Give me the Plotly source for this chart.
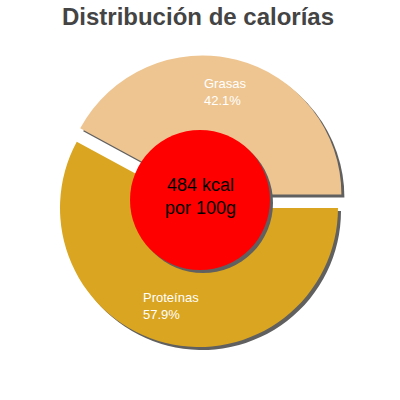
import plotly.graph_objects as go

# data
labels = ["Grasas", "Proteínas"]
shares = [42.1, 57.9]
colors = ["#EEC591", "#DAA520"]
pulls = [0.1, 0.0]
kcal = 484
center_lines = ["484 kcal", "por 100g"]

W = H = 400
SHADOW = 3  # px offset of the drop shadow


def px(x, y):
    # pixel (from top-left) -> paper coords
    return x / W, 1 - y / H


def dom(cx, cy, half, dx=0, dy=0):
    x0, y1 = px(cx + dx - half, cy + dy - half)
    x1, y0 = px(cx + dx + half, cy + dy + half)
    return dict(x=[x0, x1], y=[y0, y1])


pie_half = 139 * (1 + max(pulls))
# plotly goes clockwise from 3 o'clock, so feed the slices in reverse
common = dict(values=shares[::-1], labels=labels[::-1], pull=pulls[::-1], sort=False,
              direction="clockwise", rotation=90, textinfo="none",
              hoverinfo="skip", showlegend=False)

fig = go.Figure()
# shadows first
fig.add_trace(go.Pie(**common, domain=dom(199, 208, pie_half, SHADOW, SHADOW),
                     marker=dict(colors=["#606060"] * 2, line=dict(width=0))))
fig.add_trace(go.Pie(**common, domain=dom(199, 208, pie_half),
                     marker=dict(colors=colors[::-1], line=dict(width=0))))
# red centre disc + its shadow
disc = dict(values=[kcal], labels=["kcal"], sort=False, textinfo="none",
            hoverinfo="skip", showlegend=False)
fig.add_trace(go.Pie(**disc, domain=dom(200, 200, 70, SHADOW, SHADOW),
                     marker=dict(colors=["#606060"], line=dict(width=0))))
fig.add_trace(go.Pie(**disc, domain=dom(200, 200, 70),
                     marker=dict(colors=["#FF0000"], line=dict(width=0))))

# slice labels, name and percent on two left aligned lines
label_pos = {"Grasas": (202, 92), "Proteínas": (141, 306)}
for name, pct in zip(labels, shares):
    ax, ay = px(*label_pos[name])
    fig.add_annotation(x=ax, y=ay, xref="paper", yref="paper",
                       text=f"{name}<br>{pct}%", showarrow=False, align="left",
                       xanchor="left", yanchor="middle",
                       font=dict(family="Liberation Sans", size=13, color="white"))

ax, ay = px(200, 197)
fig.add_annotation(x=ax, y=ay, xref="paper", yref="paper", text="<br>".join(center_lines),
                   showarrow=False, xanchor="center", yanchor="middle",
                   font=dict(family="Liberation Sans", size=18, color="black"))

tx, ty = px(198, 17)
fig.update_layout(
    width=W, height=H,
    margin=dict(l=0, r=0, t=0, b=0),
    paper_bgcolor="white", plot_bgcolor="white",
    title=dict(text="<b>Distribución de calorías</b>", x=tx, xanchor="center",
               y=ty, yanchor="middle", yref="container",
               font=dict(family="Liberation Sans", size=24, color="#444444")),
)

# drop the default 8px body margin so the 400px figure fills the window
fig.write_html("out.html", config={"displayModeBar": False},
               post_script="document.body.style.margin = '0';")
